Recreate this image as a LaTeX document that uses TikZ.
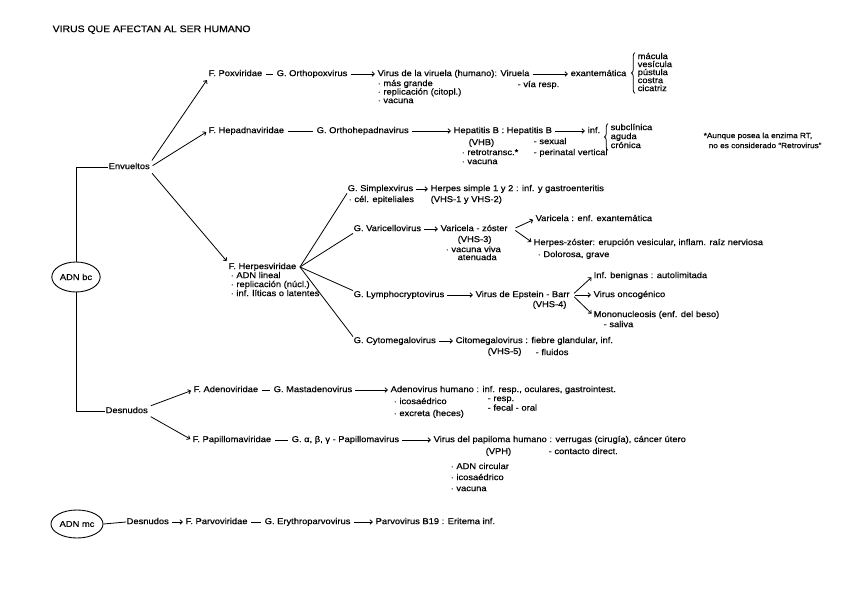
\documentclass[tikz,border=0pt]{standalone}
\usepackage{fontspec}
\setmainfont[FakeStretch=1.1,FakeBold=0.5]{Liberation Sans}
\usetikzlibrary{arrows.meta,decorations.pathreplacing,shapes.geometric,calc}
\begin{document}
\begin{tikzpicture}[x=1pt,y=-1pt,
  t/.style={anchor=west,inner sep=0.5pt,font=\fontsize{8.5}{9}\selectfont,text height=5.8pt,text depth=1.6pt},
  nt/.style={t,font=\fontsize{7.5}{8}\selectfont},
  ttl/.style={t,font=\fontsize{9.5}{10}\selectfont},
  arr/.style={-{Straight Barb[length=2.5pt,width=4.5pt]},line width=0.8pt,shorten <=2.5pt,shorten >=2pt},
  ln/.style={line width=0.8pt},
  dsh/.style={line width=0.8pt,shorten <=3pt,shorten >=3pt},
  oval/.style={ellipse,draw,line width=0.9pt,inner sep=1pt,font=\fontsize{8.5}{9}\selectfont},
  br/.style={decorate,decoration={brace,amplitude=3.5pt},line width=0.8pt}]
\useasboundingbox (0,0) rectangle (848,599);

% title
\node[ttl] (title) at (52,30) {VIRUS QUE AFECTAN AL SER HUMANO};

% roots
\node[oval,minimum width=46pt,minimum height=30pt] (adnbc) at (76,277) {ADN bc};
\node[t] (env) at (108,167) {Envueltos};
\node[t] (des) at (105,411) {Desnudos};

% Poxviridae
\node[t] (poxf) at (208,74) {F. Poxviridae};
\node[t] (poxg) at (276,74) {G. Orthopoxvirus};
\node[t] (vv) at (377,74) {Virus de la viruela (humano): Viruela};
\node[t] (exa) at (570,74) {exantemática};
\node[t] (pb1) at (377,84) {· más grande};
\node[t] (pb2) at (377,92.5) {· replicación (citopl.)};
\node[t] (pb3) at (377,101) {· vacuna};
\node[t] (vr) at (517,85) {- vía resp.};
\node[t] (mac) at (637,57) {mácula};
\node[t] (ves) at (637,65) {vesícula};
\node[t] (pus) at (637,73) {pústula};
\node[t] (cos) at (637,81) {costra};
\node[t] (cic) at (637,89) {cicatriz};

% Hepadnaviridae
\node[t] (hepf) at (208,131) {F. Hepadnaviridae};
\node[t] (hepg) at (316,131) {G. Orthohepadnavirus};
\node[t] (hb) at (453,131) {Hepatitis B : Hepatitis B};
\node[t] (inf) at (587,131) {inf.};
\node[t] (vhb) at (468,143) {(VHB)};
\node[t] (rt) at (461,153) {· retrotransc.*};
\node[t] (hvac) at (461,162) {· vacuna};
\node[t] (sex) at (533,142) {- sexual};
\node[t] (per) at (533,153) {- perinatal vertical};
\node[t] (sub) at (610,128) {subclínica};
\node[t] (agu) at (610,137) {aguda};
\node[t] (cro) at (610,146) {crónica};
\node[nt] (note1) at (703,136) {*Aunque posea la enzima RT,};
\node[nt] (note2) at (708,146) {no es considerado “Retrovirus”};

% Herpesviridae
\node[t] (herp) at (228,267) {F. Herpesviridae};
\node[t] (hb1) at (230,276) {· ADN lineal};
\node[t] (hb2) at (230,285) {· replicación (núcl.)};
\node[t] (hb3) at (230,294) {· inf. líticas o latentes};

\node[t] (simp) at (347,189) {G. Simplexvirus};
\node[t] (hs) at (430,189) {Herpes simple 1 y 2 : inf. y gastroenteritis};
\node[t] (cel) at (348,200) {· cél. epiteliales};
\node[t] (vhs12) at (430,200) {(VHS-1 y VHS-2)};

\node[t] (vari) at (353,229) {G. Varicellovirus};
\node[t] (vz) at (440,229) {Varicela - zóster};
\node[t] (vhs3) at (457,240) {(VHS-3)};
\node[t] (vvv) at (445,250) {· vacuna viva};
\node[t] (ate) at (457,258) {atenuada};
\node[t] (varz) at (535,219) {Varicela : enf. exantemática};
\node[t] (hz) at (533,243) {Herpes-zóster: erupción vesicular, inflam. raíz nerviosa};
\node[t] (dol) at (537,255) {· Dolorosa, grave};

\node[t] (lym) at (353,295) {G. Lymphocryptovirus};
\node[t] (eb) at (475,295) {Virus de Epstein - Barr};
\node[t] (vhs4) at (532,305) {(VHS-4)};
\node[t] (ben) at (593,276) {Inf. benignas : autolimitada};
\node[t] (onc) at (593,295) {Virus oncogénico};
\node[t] (mono) at (593,315) {Mononucleosis (enf. del beso)};
\node[t] (sal) at (603,325) {- saliva};

\node[t] (cyt) at (353,341) {G. Cytomegalovirus};
\node[t] (cit) at (455,341) {Citomegalovirus : fiebre glandular, inf.};
\node[t] (vhs5) at (487,352) {(VHS-5)};
\node[t] (flu) at (535,353) {- fluidos};

% Adenoviridae
\node[t] (adef) at (193,390) {F. Adenoviridae};
\node[t] (adeg) at (273,390) {G. Mastadenovirus};
\node[t] (adh) at (390,390) {Adenovirus humano : inf. resp., oculares, gastrointest.};
\node[t] (ico1) at (393,402) {· icosaédrico};
\node[t] (exc) at (393,414) {· excreta (heces)};
\node[t] (resp) at (487,399) {- resp.};
\node[t] (fec) at (487,408.5) {- fecal - oral};

% Papillomaviridae
\node[t] (papf) at (192,440) {F. Papillomaviridae};
\node[t] (papg) at (291,440) {G. α, β, γ - Papillomavirus};
\node[t] (vph) at (433,440) {Virus del papiloma humano : verrugas (cirugía), cáncer útero};
\node[t] (vphs) at (485,452) {(VPH)};
\node[t] (cont) at (548,452) {- contacto direct.};
\node[t] (adnc) at (450,467) {· ADN circular};
\node[t] (ico2) at (450,478) {· icosaédrico};
\node[t] (pvac) at (450,489) {· vacuna};

% ADN mc
\node[oval,minimum width=49pt,minimum height=28pt] (adnmc) at (77,524) {ADN mc};
\node[t] (desmc) at (126,522) {Desnudos};
\node[t] (parvf) at (185,522) {F. Parvoviridae};
\node[t] (parvg) at (264,522) {G. Erythroparvovirus};
\node[t] (b19) at (375,522) {Parvovirus B19 : Eritema inf.};

% ---- connectors ----
\draw[ln] (adnbc.north) |- (env.west);
\draw[ln] (adnbc.south) |- (des.west);
\draw[arr] (env.north east) -- (poxf.south west);
\draw[arr] (env.east) -- (hepf.west);
\draw[arr] (env.south east) -- (herp.north west);

\draw[dsh] (poxf.east) -- (poxg.west);
\draw[arr] (poxg.east) -- (vv.west);
\draw[arr] (vv.east) -- (exa.west);
\draw[br] ([xshift=-2pt]cic.south west) -- ([xshift=-2pt]mac.north west);

\draw[dsh] (hepf.east) -- (hepg.west);
\draw[arr] (hepg.east) -- (hb.west);
\draw[arr] (hb.east) -- (inf.west);
\draw[br] ([xshift=-2pt]cro.south west) -- ([xshift=-2pt]sub.north west);

\coordinate (hf) at ($(herp.east)+(3,0)$);
\draw[ln] (hf) -- (simp.south west);
\draw[ln] (hf) -- (vari.south west);
\draw[ln] (hf) -- (lym.north west);
\draw[ln] (hf) -- (cyt.north west);

\draw[arr] (simp.east) -- (hs.west);
\draw[arr] (vari.east) -- (vz.west);
\coordinate (vzb) at ($(vz.east)+(5,0)$);
\draw[arr] (vzb) -- (varz.west);
\draw[arr] (vzb) -- (hz.west);

\draw[arr] (lym.east) -- (eb.west);
\coordinate (ebb) at ($(eb.east)+(2,0)$);
\draw[arr] (ebb) -- (ben.west);
\draw[arr] (ebb) -- (onc.west);
\draw[arr] (ebb) -- (mono.west);

\draw[arr] (cyt.east) -- (cit.west);

\draw[arr] (des.north east) -- (adef.west);
\draw[arr] (des.south east) -- (papf.west);
\draw[dsh] (adef.east) -- (adeg.west);
\draw[arr] (adeg.east) -- (adh.west);
\draw[dsh] (papf.east) -- (papg.west);
\draw[arr] (papg.east) -- (vph.west);

\draw[ln] (adnmc.east) -- (desmc.west);
\draw[arr] (desmc.east) -- (parvf.west);
\draw[dsh] (parvf.east) -- (parvg.west);
\draw[arr] (parvg.east) -- (b19.west);
\end{tikzpicture}
\end{document}
